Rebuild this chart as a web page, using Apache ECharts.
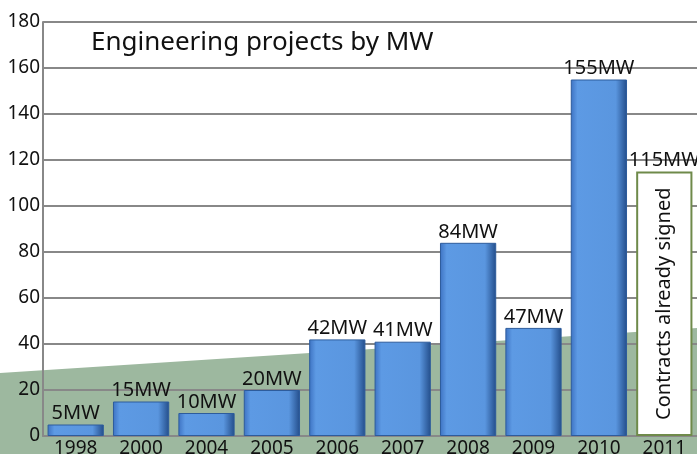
<!DOCTYPE html>
<html lang="en">
<head>
    <meta charset="UTF-8">
    <title>Engineering projects by MW</title>
    <script src="https://cdn.jsdelivr.net/npm/echarts@6/dist/echarts.min.js"></script>
    <style>
        html, body { margin: 0; padding: 0; background: #fff; }
        #chart { width: 697px; height: 454px; }
    </style>
</head>
<body>
<div id="chart"></div>
<script type="text/javascript">
    // data
    var years = ['1998', '2000', '2004', '2005', '2006', '2007', '2008', '2009', '2010', '2011'];
    var mw = [5, 15, 10, 20, 42, 41, 84, 47, 155, 115];
    var yTicks = [0, 20, 40, 60, 80, 100, 120, 140, 160, 180];
    var signedYear = '2011';
    var signedNote = 'Contracts already signed';

    var blue = {
        type: 'linear', x: 0, y: 0, x2: 1, y2: 0,
        colorStops: [
            { offset: 0, color: '#3d72c2' },
            { offset: 0.12, color: '#5d9ae4' },
            { offset: 0.8, color: '#5a96df' },
            { offset: 1, color: '#234d8a' }
        ]
    };

    var mainData = [], noteData = [];
    for (let i = 0; i < years.length; i++) {
        if (years[i] === signedYear) {
            mainData.push({
                value: mw[i],
                itemStyle: { color: '#ffffff', borderColor: '#6f8a4a', borderWidth: 2 }
            });
            noteData.push(mw[i]);
        } else {
            mainData.push(mw[i]);
            noteData.push(null);
        }
    }

    var myChart = echarts.init(document.getElementById('chart'));
    var option = {
        animation: false,
        textStyle: { fontFamily: 'Noto Sans' },
        graphic: [
            {
                type: 'polygon',
                z: -10,
                silent: true,
                shape: { points: [[0, 373], [697, 328], [697, 454], [0, 454]] },
                style: { fill: '#9db89f' }
            },
            {
                type: 'text',
                left: 91,
                top: 30,
                z: 10,
                style: { text: 'Engineering projects by MW', fontSize: 26, fill: '#111', fontFamily: 'Noto Sans' }
            }
        ],
        grid: { left: 43, right: 0, top: 22, bottom: 18, containLabel: false, outerBoundsMode: 'none' },
        xAxis: {
            type: 'category',
            data: years,
            axisLine: { lineStyle: { color: '#888', width: 2 } },
            axisTick: { show: false },
            axisLabel: { color: '#111', fontSize: 19, margin: 3 }
        },
        yAxis: {
            type: 'value',
            min: yTicks[0],
            max: yTicks[yTicks.length - 1],
            interval: 20,
            axisLine: { show: true, lineStyle: { color: '#888', width: 2 } },
            axisTick: { show: false },
            axisLabel: { color: '#111', fontSize: 19, margin: 3 },
            splitLine: { lineStyle: { color: '#888', width: 2 } }
        },
        series: [
            {
                type: 'bar',
                data: mainData,
                barCategoryGap: '14%',
                itemStyle: { color: blue, borderColor: '#2d5c9c', borderWidth: 1 },
                label: {
                    show: true,
                    position: 'top',
                    distance: 1,
                    color: '#111',
                    fontSize: 20,
                    formatter: function (p) { return p.value + 'MW'; }
                }
            },
            {
                type: 'bar',
                data: noteData,
                barGap: '-100%',
                barCategoryGap: '14%',
                itemStyle: { color: 'rgba(0,0,0,0)' },
                label: {
                    show: true,
                    position: 'inside',
                    rotate: 90,
                    color: '#111',
                    fontSize: 20,
                    formatter: signedNote
                }
            }
        ]
    };
    myChart.setOption(option);
</script>
</body>
</html>
